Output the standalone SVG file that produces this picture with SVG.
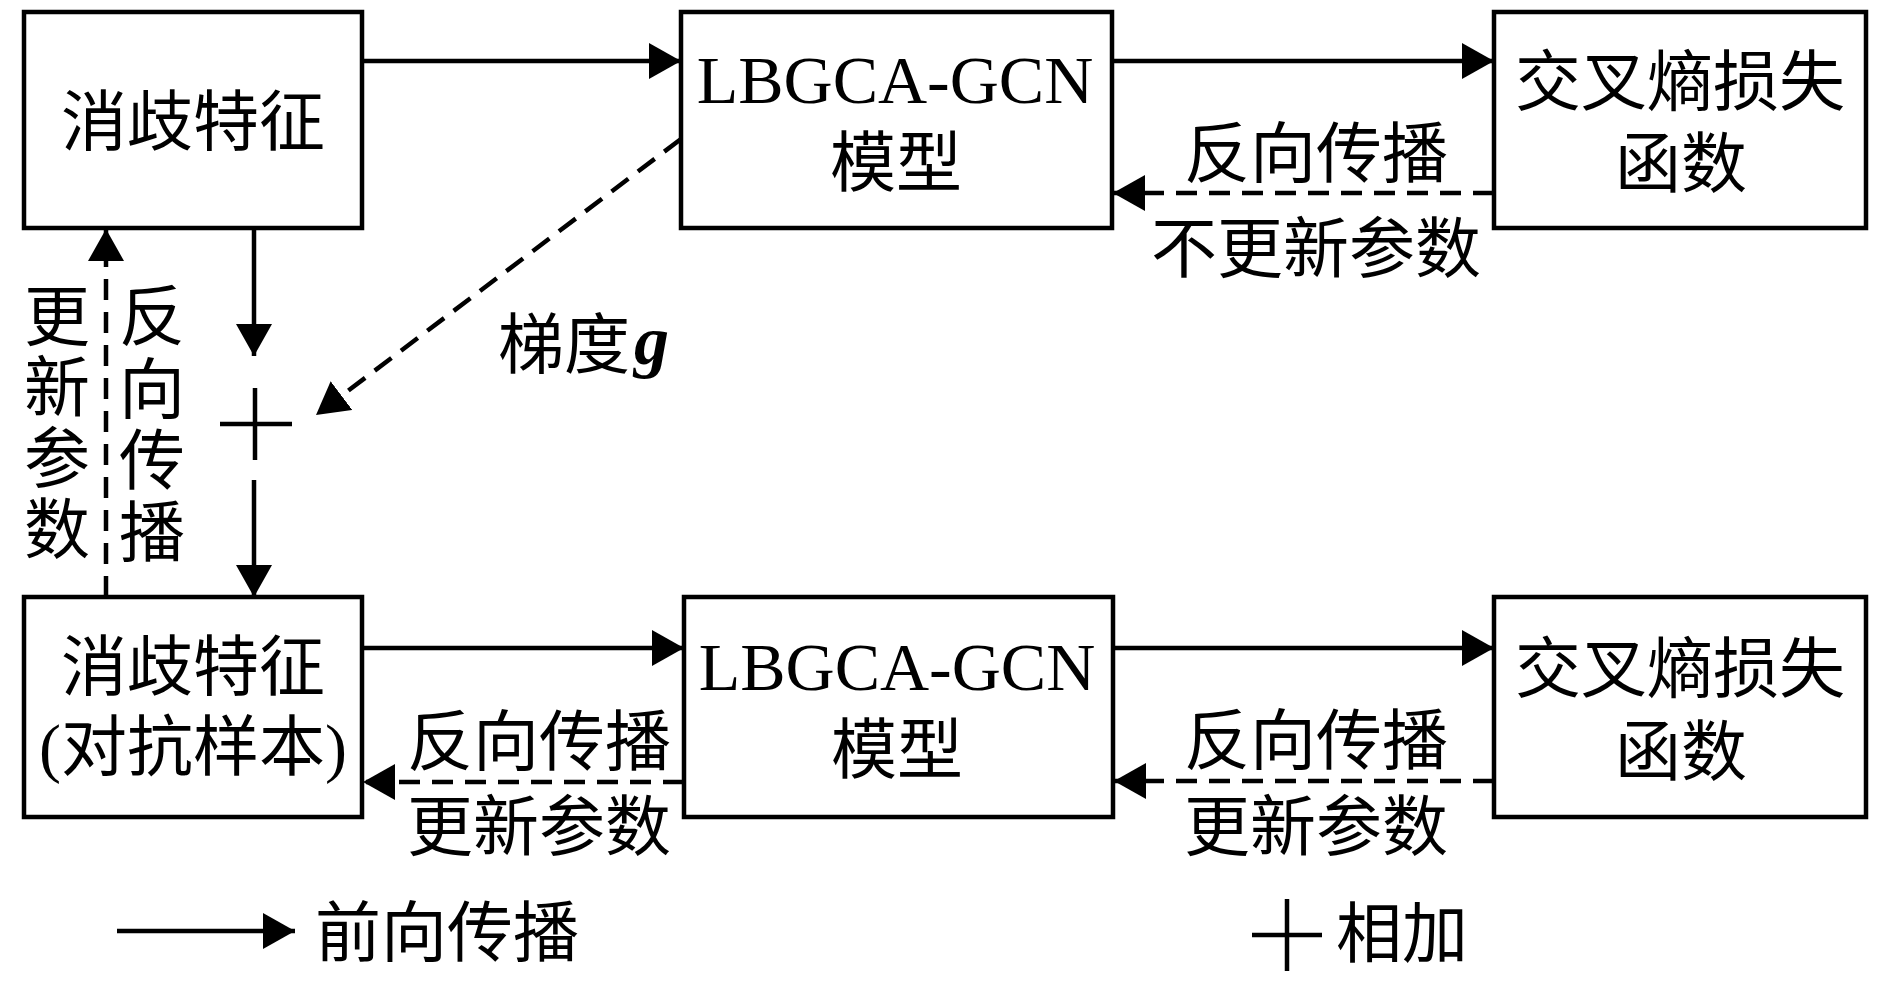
<svg xmlns="http://www.w3.org/2000/svg" width="1890" height="981" viewBox="0 0 1890 981">
<style>
.box{fill:#fff;stroke:#000;stroke-width:4.5}
.t{font-family:"Liberation Serif","Noto Sans CJK SC",serif;font-size:66px;fill:#000;text-anchor:middle}
.lat{font-family:"Liberation Serif",serif;font-size:68px;fill:#000;text-anchor:middle}
.ts{text-anchor:start}
.ln{stroke:#000;stroke-width:4.5;fill:none}
.ds{stroke:#000;stroke-width:4.5;fill:none;stroke-dasharray:21 12}
</style>
<defs>
<marker id="ah" markerUnits="userSpaceOnUse" markerWidth="32" markerHeight="36" refX="32" refY="18" orient="auto" viewBox="0 0 32 36">
<path d="M0,0 L32,18 L0,36 z" fill="#000"/>
</marker>
</defs>
<rect width="1890" height="981" fill="#fff"/>
<g id="connectors">
<line class="ln" x1="362" y1="61" x2="681" y2="61" marker-end="url(#ah)"/>
<line class="ln" x1="1112" y1="61" x2="1494" y2="61" marker-end="url(#ah)"/>
<line class="ds" x1="1494" y1="193" x2="1113" y2="193" marker-end="url(#ah)"/>
<line class="ln" x1="254" y1="228" x2="254" y2="356" marker-end="url(#ah)"/>
<line class="ln" x1="254" y1="480" x2="254" y2="597" marker-end="url(#ah)"/>
<line class="ds" x1="681" y1="139" x2="316" y2="415" marker-end="url(#ah)"/>
<line class="ds" x1="106" y1="597" x2="106" y2="229" marker-end="url(#ah)"/>
<line class="ln" x1="362" y1="648" x2="684" y2="648" marker-end="url(#ah)"/>
<line class="ln" x1="1113" y1="648" x2="1494" y2="648" marker-end="url(#ah)"/>
<line class="ds" x1="684" y1="782" x2="363" y2="782" marker-end="url(#ah)"/>
<line class="ds" x1="1494" y1="781" x2="1114" y2="781" marker-end="url(#ah)"/>
</g>
<g id="plus">
<line class="ln" x1="220" y1="424" x2="292" y2="424"/>
<line class="ln" x1="255" y1="388" x2="255" y2="460"/>
</g>
<g id="node-tl">
<rect class="box" x="24" y="12" width="338" height="216"/>
<text class="t" x="193" y="145">消歧特征</text>
</g>
<g id="node-tm">
<rect class="box" x="681" y="12" width="431" height="216"/>
<text class="lat" x="895" y="103">LBGCA-GCN</text>
<text class="t" x="896" y="186">模型</text>
</g>
<g id="node-tr">
<rect class="box" x="1494" y="12" width="372" height="216"/>
<text class="t" x="1680" y="105">交叉熵损失</text>
<text class="t" x="1681" y="187">函数</text>
</g>
<g id="node-bl">
<rect class="box" x="24" y="597" width="338" height="220"/>
<text class="t" x="193" y="690">消歧特征</text>
<text class="t" x="193" y="770">(对抗样本)</text>
</g>
<g id="node-bm">
<rect class="box" x="684" y="597" width="429" height="220"/>
<text class="lat" x="897" y="690">LBGCA-GCN</text>
<text class="t" x="897" y="773">模型</text>
</g>
<g id="node-br">
<rect class="box" x="1494" y="597" width="372" height="220"/>
<text class="t" x="1680" y="692">交叉熵损失</text>
<text class="t" x="1681" y="775">函数</text>
</g>
<g id="labels">
<text class="t" x="1316" y="177">反向传播</text>
<text class="t" x="1316" y="272">不更新参数</text>
<text class="t ts" x="498" y="368">梯度<tspan font-family="Liberation Serif" font-style="italic" font-weight="bold" font-size="70" dx="4" y="364">g</tspan></text>
<text class="t"><tspan x="57" y="340">更</tspan><tspan x="57" y="411">新</tspan><tspan x="57" y="482">参</tspan><tspan x="57" y="553">数</tspan></text>
<text class="t"><tspan x="152" y="340">反</tspan><tspan x="152" y="413">向</tspan><tspan x="152" y="484">传</tspan><tspan x="152" y="556">播</tspan></text>
<text class="t" x="539" y="765">反向传播</text>
<text class="t" x="539" y="850">更新参数</text>
<text class="t" x="1316" y="764">反向传播</text>
<text class="t" x="1316" y="850">更新参数</text>
</g>
<g id="legend">
<line class="ln" x1="117" y1="931" x2="295" y2="931" marker-end="url(#ah)"/>
<text class="t ts" x="315" y="956">前向传播</text>
<line class="ln" x1="1252" y1="935" x2="1322" y2="935"/>
<line class="ln" x1="1287" y1="899" x2="1287" y2="971"/>
<text class="t ts" x="1336" y="957">相加</text>
</g>
</svg>
